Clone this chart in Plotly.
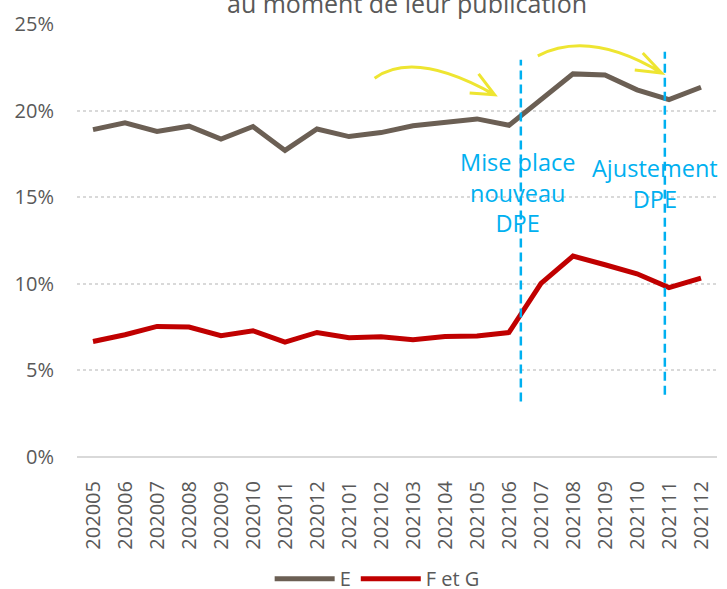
import plotly.graph_objects as go

months = ["202005", "202006", "202007", "202008", "202009", "202010", "202011", "202012",
          "202101", "202102", "202103", "202104", "202105", "202106", "202107", "202108",
          "202109", "202110", "202111", "202112"]
e_vals = [18.9, 19.3, 18.8, 19.1, 18.35, 19.08, 17.7, 18.94, 18.5, 18.73, 19.12,
          19.35, 19.52, 19.15, 20.62, 22.12, 22.06, 21.2, 20.64, 21.35]
fg_vals = [6.67, 7.06, 7.54, 7.5, 7.0, 7.29, 6.63, 7.19, 6.88, 6.94, 6.77,
           6.96, 6.99, 7.19, 10.02, 11.6, 11.1, 10.58, 9.78, 10.33]
y_ticks = [0, 5, 10, 15, 20, 25]
y_ticktext = ["0%", "5%", "10%", "15%", "20%", "25%"]

GRAY = "#595959"
BLUE = "#00B0F0"
YELLOW = "#EEE531"
FONT = "Open Sans"

fig = go.Figure()
fig.add_trace(go.Scatter(x=months, y=e_vals, mode="lines", name="E",
                         line=dict(color="#6B5F54", width=5)))
fig.add_trace(go.Scatter(x=months, y=fg_vals, mode="lines", name="F et G",
                         line=dict(color="#C00000", width=5)))

# vertical dashed markers
fig.add_shape(type="line", xref="x", yref="y", x0=13.37, x1=13.37, y0=3.2, y1=22.93,
              line=dict(color=BLUE, width=2.5, dash="9px,5px"))
fig.add_shape(type="line", xref="x", yref="y", x0=17.87, x1=17.87, y0=3.6, y1=23.4,
              line=dict(color=BLUE, width=2.5, dash="9px,5px"))

# hand-drawn style yellow arrows
fig.add_shape(type="path", xref="x", yref="y",
              path="M 8.8,21.87 Q 10.05,23.53 12.55,20.91 M 12.05,22.12 L 12.55,20.91 L 11.77,21.02",
              line=dict(color=YELLOW, width=3))
fig.add_shape(type="path", xref="x", yref="y",
              path="M 13.9,23.16 Q 15.52,24.69 17.77,22.17 M 17.18,23.33 L 17.77,22.17 L 16.93,22.35",
              line=dict(color=YELLOW, width=3))

fig.add_annotation(x=13.26, y=15.3, xref="x", yref="y", text="Mise place<br>nouveau<br>DPE",
                   showarrow=False, font=dict(family=FONT, size=23.5, color=BLUE),
                   xanchor="center", yanchor="middle")
fig.add_annotation(x=17.57, y=15.77, xref="x", yref="y", text="Ajustement<br>DPE",
                   showarrow=False, font=dict(family=FONT, size=23.5, color=BLUE),
                   xanchor="center", yanchor="middle")

# partially visible title line
fig.add_annotation(x=0.516, y=1.0039, xref="paper", yref="paper",
                   text="au moment de leur publication", showarrow=False,
                   font=dict(family=FONT, size=25, color=GRAY),
                   xanchor="center", yanchor="bottom")

fig.update_layout(
    width=727, height=589,
    margin=dict(l=77, r=10, t=24, b=132, autoexpand=False),
    paper_bgcolor="white", plot_bgcolor="white",
    font=dict(family=FONT, color=GRAY, size=20),
    showlegend=True,
    legend=dict(orientation="h", x=0.469, xanchor="center", y=-0.281, yanchor="middle",
                font=dict(family=FONT, size=20, color=GRAY), itemwidth=60,
                bgcolor="rgba(0,0,0,0)"),
)
fig.update_xaxes(type="category", range=[-0.5, 19.5], autorange=False,
                 showgrid=False, zeroline=False, showline=False, automargin=False,
                 ticks="", tickangle=-90, tickfont=dict(family=FONT, size=20, color=GRAY),
                 ticklabelstandoff=19)
fig.update_yaxes(range=[0, 25], tickvals=y_ticks, ticktext=y_ticktext, automargin=False,
                 showgrid=True, gridcolor="#D9D9D9", griddash="dot", gridwidth=1.5,
                 zeroline=True, zerolinecolor="#D9D9D9", zerolinewidth=2,
                 showline=False, ticks="", tickfont=dict(family=FONT, size=20, color=GRAY),
                 ticklabelstandoff=22)

fig.write_html("out.html", config={"displayModeBar": False},
               post_script="document.body.style.margin='0px';")
